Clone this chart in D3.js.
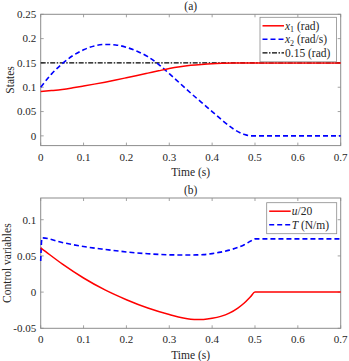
<!DOCTYPE html>
<html>
<head>
<meta charset="utf-8">
<script src="https://cdn.jsdelivr.net/npm/d3@7"></script>
<style>
  body { margin: 0; background: #fff; }
  svg text { font-family: "Liberation Serif", "Tinos", "DejaVu Serif", serif; fill: #262626; }
</style>
</head>
<body>
<svg width="349" height="361" font-family="Liberation Serif"></svg>
<script>
// panel (a): states
const tA = [0, 0.025, 0.05, 0.075, 0.1, 0.125, 0.15, 0.175, 0.2, 0.225, 0.25, 0.275, 0.3, 0.325,
            0.35, 0.375, 0.4, 0.425, 0.45, 0.475, 0.49, 0.5, 0.6, 0.7];
const x1 = [0.091, 0.0931, 0.0955, 0.0988, 0.1025, 0.1064, 0.1105, 0.1149, 0.1195, 0.1242, 0.129, 0.1338, 0.1385, 0.1422,
            0.1450, 0.1470, 0.1485, 0.1493, 0.1498, 0.1499, 0.15, 0.15, 0.15, 0.15];
const x2 = [0.100, 0.127, 0.148, 0.165, 0.177, 0.185, 0.188, 0.187, 0.182, 0.174, 0.163, 0.147, 0.128, 0.108,
            0.088, 0.069, 0.050, 0.031, 0.014, 0.003, 0, 0, 0, 0];
const ref = 0.15;

// panel (b): control variables
const tB = [0, 0.003, 0.05, 0.1, 0.15, 0.2, 0.25, 0.3, 0.35, 0.365, 0.38, 0.4, 0.42, 0.44, 0.46,
            0.475, 0.49, 0.5, 0.6, 0.7];
const u20 = [0.061, 0.0597, 0.039, 0.0195, 0.003, -0.0105, -0.022, -0.031, -0.0375, -0.038, -0.0378, -0.0362, -0.0335, -0.029, -0.022,
             -0.015, -0.006, 0, 0, 0];
const T = [0.043, 0.075, 0.0685, 0.063, 0.059, 0.0555, 0.053, 0.0515, 0.0512, 0.0514, 0.0518, 0.0532, 0.0552, 0.058, 0.0617,
           0.0655, 0.0705, 0.0736, 0.0736, 0.0736];

const xTicks = [0, 0.1, 0.2, 0.3, 0.4, 0.5, 0.6, 0.7];
const yTicksA = [0, 0.05, 0.1, 0.15, 0.2, 0.25];
const yTicksB = [-0.05, 0, 0.05, 0.1];

const svg = d3.select("svg");
const left = 40.7, right = 340.7;
const x = d3.scaleLinear().domain([0, 0.7]).range([left, right]);

function panel(top, bottom, yDomain, yTicks, title, ylabel) {
  const y = d3.scaleLinear().domain(yDomain).range([bottom, top]);
  const g = svg.append("g");
  const fmt = d => d === 0 ? "0" : String(+d.toFixed(3));

  // ticks inside, on all four sides
  const tk = 3;
  g.selectAll(".xt").data(xTicks).enter().append("path")
    .attr("d", d => `M${x(d)},${bottom}v${-tk}M${x(d)},${top}v${tk}`)
    .attr("stroke", "#8c8c8c").attr("stroke-width", 0.8);
  g.selectAll(".yt").data(yTicks).enter().append("path")
    .attr("d", d => `M${left},${y(d)}h${tk}M${right},${y(d)}h${-tk}`)
    .attr("stroke", "#8c8c8c").attr("stroke-width", 0.8);

  g.selectAll(".xl").data(xTicks).enter().append("text")
    .attr("x", d => x(d)).attr("y", bottom + 15)
    .attr("text-anchor", "middle").attr("font-size", 11)
    .text(fmt);
  g.selectAll(".yl").data(yTicks).enter().append("text")
    .attr("x", left - 4.5).attr("y", d => y(d) + 3.8)
    .attr("text-anchor", "end").attr("font-size", 11)
    .text(fmt);

  g.append("text").attr("x", (left + right) / 2).attr("y", bottom + 30.5)
    .attr("text-anchor", "middle").attr("font-size", 11.5).text("Time (s)");
  g.append("text").attr("x", (left + right) / 2).attr("y", top - 4)
    .attr("text-anchor", "middle").attr("font-size", 11.5).text(title);
  g.append("text")
    .attr("transform", `translate(${ylabel.x},${(top + bottom) / 2}) rotate(-90)`)
    .attr("text-anchor", "middle").attr("font-size", 11.5).text(ylabel.text);

  g.append("rect").attr("x", left).attr("y", top)
    .attr("width", right - left).attr("height", bottom - top)
    .attr("fill", "none").attr("stroke", "#8c8c8c").attr("stroke-width", 1);
  return y;
}

function draw(y, ts, vs, color, dash, w) {
  const line = d3.line().x(d => x(d[0])).y(d => y(d[1])).curve(d3.curveMonotoneX);
  svg.append("path").datum(ts.map((t, i) => [t, vs[i]]))
    .attr("d", line).attr("fill", "none")
    .attr("stroke", color).attr("stroke-width", w)
    .attr("stroke-dasharray", dash);
}

function legend(x0, y0, w, items) {
  const g = svg.append("g");
  g.append("rect").attr("x", x0).attr("y", y0).attr("width", w)
    .attr("height", items.length * 13.5 + 4)
    .attr("fill", "#fff").attr("stroke", "#8c8c8c").attr("stroke-width", 0.8);
  items.forEach((it, i) => {
    const cy = y0 + 8.5 + i * 13.5;
    g.append("line").attr("x1", x0 + 2.5).attr("x2", x0 + 24).attr("y1", cy).attr("y2", cy)
      .attr("stroke", it.color).attr("stroke-width", it.w).attr("stroke-dasharray", it.dash);
    const t = g.append("text").attr("x", x0 + 25).attr("y", cy + 3.8).attr("font-size", 11.5);
    t.append("tspan").attr("font-style", "italic").text(it.sym);
    if (it.sub) t.append("tspan").attr("font-size", 8).attr("dy", 2.5).text(it.sub);
    t.append("tspan").attr("dy", it.sub ? -2.5 : 0).text(it.rest);
  });
}

// (a)
const yA = panel(14.3, 145.6, [-0.02, 0.25], yTicksA, "(a)", { x: 13.5, text: "States" });
draw(yA, [0, 0.7], [ref, ref], "#000", "5,1.5,1.5,1.5", 1.2);
draw(yA, tA, x2, "#0000ff", "5,3", 1.6);
draw(yA, tA, x1, "#ff0000", null, 1.5);
legend(260, 17.3, 76.4, [
  { color: "#ff0000", dash: null, w: 1.5, sym: "x", sub: "1", rest: " (rad)" },
  { color: "#0000ff", dash: "5,3", w: 1.6, sym: "x", sub: "2", rest: " (rad/s)" },
  { color: "#000", dash: "5,1.5,1.5,1.5", w: 1.2, sym: "", sub: null, rest: "0.15 (rad)" }
]);

// (b)
const yB = panel(198, 328.3, [-0.05, 0.13], yTicksB, "(b)", { x: 10.5, text: "Control variables" });
draw(yB, tB, T, "#0000ff", "5,3", 1.6);
draw(yB, tB, u20, "#ff0000", null, 1.5);
legend(266.7, 202.7, 70, [
  { color: "#ff0000", dash: null, w: 1.5, sym: "u", sub: null, rest: "/20" },
  { color: "#0000ff", dash: "5,3", w: 1.6, sym: "T", sub: null, rest: " (N/m)" }
]);
</script>
</body>
</html>
